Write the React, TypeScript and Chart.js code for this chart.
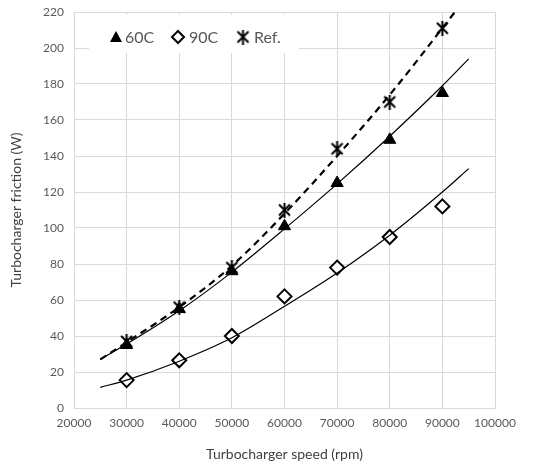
import React, { useEffect, useRef } from "react";
import { Chart, registerables } from "chart.js";

Chart.register(...registerables);

const speeds = [30000, 40000, 50000, 60000, 70000, 80000, 90000];
const friction60C = [35, 55, 76, 101, 125, 149, 175];
const friction90C = [15.5, 26.5, 40, 62, 78, 95, 112];
const frictionRef = [37, 56, 78, 110, 144, 170, 211];

const trendSpeeds = [25000, 30000, 40000, 50000, 60000, 70000, 80000, 90000, 95000];
const trend60C = [27, 35.5, 54, 75.5, 99.5, 124.5, 151, 179, 194];
const trend90C = [11.5, 15.5, 26, 39, 56.5, 75, 96, 120, 133];
const trendRefSpeeds = [25000, 30000, 40000, 50000, 60000, 70000, 80000, 90000, 95000];
const trendRef = [27, 36.5, 56, 79, 108, 140, 174, 211, 230];

const xTicks = [20000, 30000, 40000, 50000, 60000, 70000, 80000, 90000, 100000];
const yTicks = [0, 20, 40, 60, 80, 100, 120, 140, 160, 180, 200, 220];

const legendLabels = ["60C", "90C", "Ref."];

const FONT = "Lato, 'Open Sans', sans-serif";
const GREY = "#595959";

function makeAsterisk(size: number, lw: number): HTMLCanvasElement {
  const c = document.createElement("canvas");
  c.width = size;
  c.height = size;
  const ctx = c.getContext("2d")!;
  ctx.strokeStyle = "#000";
  ctx.lineWidth = lw;
  const p = lw;
  ctx.beginPath();
  ctx.moveTo(p, p);
  ctx.lineTo(size - p, size - p);
  ctx.moveTo(size - p, p);
  ctx.lineTo(p, size - p);
  ctx.moveTo(size / 2, 0);
  ctx.lineTo(size / 2, size);
  ctx.stroke();
  return c;
}

const pts = (xs: number[], ys: number[]) => xs.map((x, i) => ({ x, y: ys[i] }));

export default function App() {
  const ref = useRef<HTMLCanvasElement>(null);
  useEffect(() => {
    const star = makeAsterisk(15, 2);
    const legendPlugin = {
      id: "insideLegend",
      beforeDatasetsDraw(chart: any) {
        const ctx = chart.ctx;
        const a = chart.chartArea;
        ctx.save();
        ctx.fillStyle = "#fff";
        ctx.fillRect(a.left + 15, a.top + 3, 210, 38);
        const cy = a.top + 25;
        ctx.font = `16px ${FONT}`;
        ctx.textBaseline = "middle";
        const xs = [a.left + 42, a.left + 104, a.left + 169];
        // triangle
        ctx.fillStyle = "#000";
        ctx.beginPath();
        ctx.moveTo(xs[0], cy - 6);
        ctx.lineTo(xs[0] + 6, cy + 5);
        ctx.lineTo(xs[0] - 6, cy + 5);
        ctx.closePath();
        ctx.fill();
        // diamond
        ctx.strokeStyle = "#000";
        ctx.lineWidth = 2;
        ctx.beginPath();
        ctx.moveTo(xs[1], cy - 6);
        ctx.lineTo(xs[1] + 6, cy);
        ctx.lineTo(xs[1], cy + 6);
        ctx.lineTo(xs[1] - 6, cy);
        ctx.closePath();
        ctx.stroke();
        // asterisk
        ctx.drawImage(star, xs[2] - 7.5, cy - 7.5);
        ctx.fillStyle = GREY;
        const offs = [9, 11, 11];
        legendLabels.forEach((t, i) => ctx.fillText(t, xs[i] + offs[i], cy + 1));
        ctx.restore();
      },
    };
    const chart = new Chart(ref.current!, {
      type: "scatter",
      data: {
        datasets: [
          {
            label: "trend 60C",
            data: pts(trendSpeeds, trend60C),
            showLine: true,
            borderColor: "#000",
            borderWidth: 1.2,
            pointRadius: 0,
            cubicInterpolationMode: "monotone",
          },
          {
            label: "trend 90C",
            data: pts(trendSpeeds, trend90C),
            showLine: true,
            borderColor: "#000",
            borderWidth: 1.2,
            pointRadius: 0,
            cubicInterpolationMode: "monotone",
          },
          {
            label: "trend Ref.",
            data: pts(trendRefSpeeds, trendRef),
            showLine: true,
            borderColor: "#000",
            borderWidth: 2.2,
            borderDash: [7, 5],
            pointRadius: 0,
            cubicInterpolationMode: "monotone",
          },
          {
            label: "60C",
            data: pts(speeds, friction60C),
            showLine: false,
            pointStyle: "triangle",
            pointRadius: 7,
            backgroundColor: "#000",
            borderColor: "#000",
            borderWidth: 1,
          },
          {
            label: "90C",
            data: pts(speeds, friction90C),
            showLine: false,
            pointStyle: "rectRot",
            pointRadius: 7,
            backgroundColor: "#fff",
            borderColor: "#000",
            borderWidth: 2,
          },
          {
            label: "Ref.",
            data: pts(speeds, frictionRef),
            showLine: false,
            pointStyle: star,
            pointRadius: 8,
          },
        ],
      },
      options: {
        animation: false,
        responsive: false,
        maintainAspectRatio: false,
        layout: { autoPadding: false, padding: { left: 0, right: 39, top: 4, bottom: 0 } },
        plugins: { legend: { display: false }, tooltip: { enabled: false } },
        scales: {
          x: {
            type: "linear",
            min: 20000,
            max: 100000,
            afterBuildTicks: (s: any) => {
              s.ticks = xTicks.map((v) => ({ value: v }));
            },
            afterFit: (s: any) => {
              s.height = 55;
              s.paddingLeft = 0;
              s.paddingRight = 0;
            },
            grid: { color: "#d9d9d9", drawTicks: false },
            border: { color: "#d9d9d9" },
            ticks: { color: GREY, font: { family: FONT, size: 12 }, padding: 8, maxRotation: 0, callback: (v: any) => String(v) },
            title: {
              display: true,
              text: "Turbocharger speed (rpm)",
              color: "#404040",
              font: { family: FONT, size: 14 },
              padding: { top: 10, bottom: 0 },
            },
          },
          y: {
            type: "linear",
            min: 0,
            max: 220,
            afterBuildTicks: (s: any) => {
              s.ticks = yTicks.map((v) => ({ value: v }));
            },
            afterFit: (s: any) => {
              s.width = 66;
              s.paddingTop = 0;
              s.paddingBottom = 0;
            },
            grid: { color: "#d9d9d9", drawTicks: false },
            border: { display: false },
            ticks: { color: GREY, font: { family: FONT, size: 12 }, padding: 10 },
            title: {
              display: true,
              text: "Turbocharger friction (W)",
              color: "#404040",
              font: { family: FONT, size: 14 },
              padding: { top: 0, bottom: 4 },
            },
          },
        },
      },
      plugins: [legendPlugin],
    } as any);
    return () => chart.destroy();
  }, []);
  return (
    <div style={{ width: 526, height: 455 }}>
      <canvas ref={ref} width={526} height={455} />
    </div>
  );
}
